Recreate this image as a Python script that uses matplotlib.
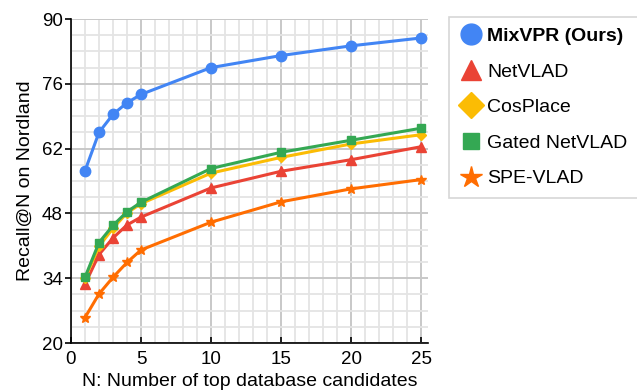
import numpy as np
import matplotlib.pyplot as plt
from matplotlib.lines import Line2D

plt.rcParams['font.family'] = ['Liberation Sans', 'DejaVu Sans']

# recall@N values per method
n_vals = [1, 2, 3, 4, 5, 10, 15, 20, 25]
mixvpr = [57.2, 65.5, 69.4, 71.9, 73.7, 79.5, 82.1, 84.2, 85.9]
netvlad = [32.7, 39.1, 42.7, 45.5, 47.2, 53.5, 57.1, 59.6, 62.4]
cosplace = [34.0, 40.9, 44.8, 48.1, 50.1, 56.7, 60.1, 63.0, 65.0]
gated_netvlad = [34.2, 41.7, 45.4, 48.35, 50.4, 57.7, 61.2, 63.8, 66.4]
spe_vlad = [25.5, 30.6, 34.2, 37.4, 40.1, 46.1, 50.5, 53.3, 55.3]

names = ['MixVPR (Ours)', 'NetVLAD', 'CosPlace', 'Gated NetVLAD', 'SPE-VLAD']
series = [mixvpr, netvlad, cosplace, gated_netvlad, spe_vlad]
colors = ['#4285F4', '#EA4335', '#FBBC04', '#34A853', '#FF6D01']
markers = ['o', '^', 'D', 's', '*']
msizes = [7.5, 6.5, 5.5, 6, 7.5]
leg_sizes = [15, 14, 13, 12, 16]

yticks = [20, 34, 48, 62, 76, 90]

fig = plt.figure(figsize=(6.37, 3.91), dpi=100)
ax = fig.add_axes([71 / 637, 1 - 343 / 391, (428 - 71) / 637, (343 - 19) / 391])

# draw back to front so the top series sits above
for i in [4, 1, 2, 3, 0]:
    ax.plot(n_vals, series[i], color=colors[i], lw=2.2, marker=markers[i],
            ms=msizes[i], mec=colors[i], zorder=3)

ax.set_xlim(0, 25.5)
ax.set_ylim(20, 90)
ax.set_xticks(np.arange(0, 26, 5))
ax.set_xticks(np.arange(0, 26, 1), minor=True)
ax.set_yticks(yticks)
ax.set_yticks(np.arange(20, 90.1, 3.5), minor=True)
ax.grid(which='major', color='#c8c8c8', lw=1.4)
ax.grid(which='minor', color='#e4e4e4', lw=1.3)
ax.set_axisbelow(True)

for s in ['top', 'right']:
    ax.spines[s].set_visible(False)
ax.spines['left'].set_linewidth(1.2)
ax.spines['bottom'].set_linewidth(1.2)
ax.tick_params(axis='x', which='major', direction='in', length=4, width=1.2,
               labelsize=13.5, pad=6)
ax.tick_params(axis='y', which='major', direction='out', length=4, width=1.2,
               labelsize=13.5, pad=2)
ax.tick_params(which='minor', length=0)

ax.set_xlabel('N: Number of top database candidates', fontsize=14, labelpad=3)
ax.set_ylabel('Recall@N on Nordland', fontsize=14, labelpad=6)

handles = [Line2D([], [], ls='none', marker=markers[i], color=colors[i],
                  ms=leg_sizes[i], mec=colors[i]) for i in range(5)]
leg = fig.legend(handles, names, loc='upper left',
                 bbox_to_anchor=(449 / 637, 1 - 17 / 391), fontsize=14,
                 frameon=True, fancybox=False, edgecolor='#cccccc',
                 labelspacing=0.92, handletextpad=0.2, borderpad=0.55,
                 handlelength=1.2, borderaxespad=0)
leg.get_frame().set_linewidth(1.2)
leg.get_texts()[0].set_fontweight('bold')

fig.savefig('out.png', dpi=100)
